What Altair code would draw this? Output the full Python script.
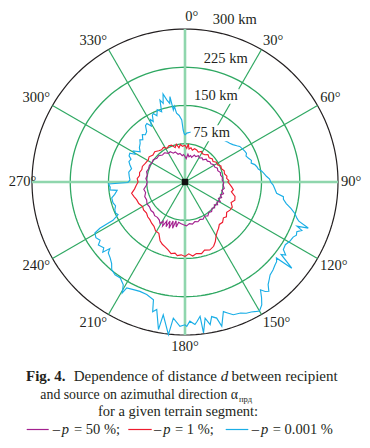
import altair as alt
import pandas as pd

# ---------------- data (azimuth in degrees, distance in km) ----------------
cyan_deg = [0, 2, 6, 10, 15, 20, 25, 30, 35, 40, 43, 46, 49, 52, 55, 57, 60, 63, 65, 67, 69.5, 72, 74, 76, 78,
            80, 82, 84, 86, 88, 90, 92, 94, 97, 98.5, 100, 102, 104, 106, 108, 109, 110.5, 111.5, 112.5, 114,
            115.5, 117, 119.5, 122, 124.5, 126, 127, 128.9, 129.7, 131, 132.6, 135, 137.5, 139, 141, 142.5,
            143.8, 145, 146.5, 148, 150, 151, 153, 155, 157, 160, 162, 163.5, 165.7, 166.9, 168.8, 170, 171.6,
            173, 173.6, 175, 176, 178, 179.3, 180, 182, 184.9, 186.2, 189.3, 190.2, 192.5, 194, 195, 198.8,
            202.4, 205.6, 208.8, 209.5, 211, 214, 217, 219.9, 222, 224.6, 227.2, 228.5, 229.5, 231, 234,
            235.5, 238, 240.5, 241.5, 242, 244, 246, 248.4, 251, 254, 257.7, 260, 263, 264, 266, 268.5, 269.5,
            272, 276, 280, 284, 287.2, 290, 293, 295, 297.5, 299, 301, 304, 307, 310.7, 313, 315, 318, 320,
            322.7, 325, 326.9, 329, 331, 332.3, 334, 335.2, 337, 339, 341.6, 343, 344.5, 346, 347.5, 349, 350,
            350.8, 352, 353, 355, 357, 358, 359, 360]
cyan_km = [92, 96, 98, 100, 102, 104, 105, 107, 109, 110, 112, 114, 116, 119, 124, 128, 130, 132, 133, 130, 133,
           137, 135, 141, 144, 146, 152, 156, 160, 166, 168, 173, 176, 181, 195, 196, 203, 214, 224, 231, 236,
           258, 236, 248, 240, 242, 238, 236, 232, 234, 244, 236, 269, 233, 238, 240, 244, 247, 252, 259, 270,
           266, 258, 272, 284, 292, 290, 286, 284, 279, 277, 270, 265, 292, 274, 269, 284, 270, 298, 265, 274,
           280, 273, 283, 280, 283, 268, 301, 264, 294, 256, 262, 239, 233, 232, 234, 237, 250, 235, 227, 228,
           224, 215, 209, 205, 197, 212, 205, 210, 202, 206, 203, 190, 160, 146, 149, 148, 144, 147, 147, 140,
           134, 148, 147, 150, 112, 108, 110, 112, 108, 113, 117, 115, 121, 122, 112, 118, 106, 112, 116, 121,
           117, 125, 121, 124, 135, 137, 128, 140, 134, 146, 148, 141, 152, 145, 168, 160, 178, 165, 157, 170,
           143, 150, 136, 131, 122, 102, 95, 92]

red_deg = [0, 3, 5, 7, 10, 13, 16, 20, 24, 28, 32, 36, 40, 45, 50, 54, 58, 62, 66, 70, 74, 78, 82, 85, 88, 90,
           93, 96, 99, 102, 106, 110, 114, 118, 122, 126, 130, 133, 137, 141, 144, 147, 150, 153, 156, 160, 164,
           167, 171, 174, 177, 180, 183, 186, 188, 191, 194, 197, 200, 203, 207, 211, 215, 219, 223, 227, 231,
           236, 240, 245, 250, 254, 258, 262, 266, 270, 274, 278, 282, 286, 290, 295, 301, 305, 310, 315, 320,
           324, 328, 332, 336, 340, 344, 347, 350, 353, 356, 360]
red_km = [72, 66, 75, 65, 68, 64, 68, 67, 64, 68, 65, 66, 70, 67, 70, 68, 73, 72, 77, 76, 80, 79, 83, 82, 86, 84,
          88, 92, 96, 93, 102, 104, 99, 105, 104, 101, 106, 103, 108, 107, 112, 116, 122, 131, 138, 142, 139,
          144, 142, 146, 141, 146, 143, 145, 141, 143, 137, 133, 130, 125, 113, 112, 106, 104, 101, 100, 97,
          98, 96, 100, 101, 104, 107, 100, 96, 92, 94, 90, 91, 88, 89, 86, 84, 86, 82, 84, 80, 78, 80, 75, 78,
          77, 70, 76, 68, 74, 70, 72]

purple_deg = [0, 3, 6, 9, 12, 15, 19, 23, 27, 31, 35, 39, 43, 47, 51, 55, 59, 63, 67, 71, 75, 79, 83, 87, 91,
              95, 99, 103, 107, 110, 113, 116, 119, 122, 125, 128, 131, 134, 138, 142, 146, 150, 154, 158, 162,
              166, 170, 174, 178, 182, 186, 189, 191, 193, 195, 197, 199, 201, 203, 205, 207, 209, 211, 214, 218,
              222, 226, 230, 235, 240, 245, 250, 255, 260, 265, 270, 275, 280, 285, 290, 295, 300, 305, 310, 315,
              320, 325, 330, 334, 338, 342, 346, 350, 354, 357, 360]
purple_km = [50, 46, 55, 50, 53, 50, 56, 54, 58, 55, 58, 56, 61, 60, 63, 62, 66, 65, 69, 68, 72, 71, 74, 73, 76,
             75, 78, 74, 79, 74, 78, 73, 79, 74, 78, 73, 77, 74, 78, 76, 80, 77, 81, 79, 82, 80, 84, 82, 86, 84,
             82, 80, 90, 78, 94, 80, 96, 82, 95, 84, 97, 88, 95, 90, 88, 89, 86, 87, 85, 86, 83, 84, 80, 82, 76,
             74, 77, 75, 78, 76, 77, 75, 76, 72, 73, 69, 70, 65, 66, 61, 62, 56, 57, 52, 54, 50]

series_names = ["p = 0.001 %", "p = 1 %", "p = 50 %"]
series_colors = ["#1aaee6", "#ee1c2e", "#a3218f"]

ring_km = [75, 150, 225, 300]
spoke_deg = [0, 30, 60, 90, 120, 150]
tick_deg = [0, 30, 60, 90, 120, 150, 180, 210, 240, 270, 300, 330]
dist_labels = ["75 km", "150 km", "225 km", "300 km"]

# ---------------- layout ----------------
KM = 300.0 / 153.0            # km per pixel
SERIF = "Liberation Serif, Times New Roman, Times, DejaVu Serif, serif"
INK = "#231f20"
GREEN = "#2fa862"
LIGHT_GREEN = "#8fd6ad"
W = H = 306
OX, OY = 32, 29               # page position of the plot origin

xs = alt.Scale(domain=[-300, 300], nice=False, zero=False)
ys = alt.Scale(domain=[-300, 300], nice=False, zero=False)
X = alt.X("x:Q", scale=xs, axis=None)
Y = alt.Y("y:Q", scale=ys, axis=None)
POLAR = dict(x="datum.km*sin(datum.deg*PI/180)", y="datum.km*cos(datum.deg*PI/180)")

frames = []
for name, d, k in [(series_names[0], cyan_deg, cyan_km),
                   (series_names[1], red_deg, red_km),
                   (series_names[2], purple_deg, purple_km)]:
    frames.append(pd.DataFrame({"deg": d, "km": k, "series": name}))
curves = pd.concat(frames, ignore_index=True)

ring_rows = [{"ring": r, "deg": a, "km": r} for r in ring_km for a in range(0, 362, 2)]
rings = pd.DataFrame(ring_rows)
spokes = pd.DataFrame([{"spoke": a, "deg": a, "km": s} for a in spoke_deg for s in (-300, 300)])
ticks = pd.DataFrame({"t": tick_deg, "label": [f"{t}°" for t in tick_deg]})
dist = pd.DataFrame({"text": dist_labels, "deg": [28.7, 19.8, 18.3, 17.1], "km": [109, 178.5, 254.5, 332],
                     "bw": [42, 46, 0, 0], "bh": [16, 15, 0, 0]})
one = pd.DataFrame({"deg": [0], "km": [0]})

layers = []

layers.append(alt.Chart(rings).transform_filter("datum.ring < 300").transform_calculate(**POLAR)
              .mark_line(color=GREEN, strokeWidth=1.3)
              .encode(x=X, y=Y, detail="ring:N", order="deg:Q"))
layers.append(alt.Chart(rings).transform_filter("datum.ring == 300").transform_calculate(**POLAR)
              .mark_line(color=INK, strokeWidth=1.2)
              .encode(x=X, y=Y, detail="ring:N", order="deg:Q"))
layers.append(alt.Chart(spokes).transform_filter("datum.spoke % 90 != 0").transform_calculate(**POLAR)
              .mark_line(color=GREEN, strokeWidth=1.2)
              .encode(x=X, y=Y, detail="spoke:N", order="km:Q"))
layers.append(alt.Chart(spokes).transform_filter("datum.spoke % 90 == 0").transform_calculate(**POLAR)
              .mark_line(color=LIGHT_GREEN, strokeWidth=2.6)
              .encode(x=X, y=Y, detail="spoke:N", order="km:Q"))

layers.append(alt.Chart(curves).transform_calculate(**POLAR)
              .mark_line(strokeWidth=1.15, strokeJoin="miter")
              .encode(x=X, y=Y,
                      color=alt.Color("series:N", scale=alt.Scale(domain=series_names, range=series_colors),
                                      legend=None, sort=series_names),
                      detail="series:N", order="deg:Q"))

layers.append(alt.Chart(one).transform_calculate(**POLAR)
              .mark_square(size=42, color="#111111", opacity=1).encode(x=X, y=Y))

layers.append(alt.Chart(dist).transform_filter("datum.bw > 0").transform_calculate(
    cx="datum.km*sin(datum.deg*PI/180)", cy="datum.km*cos(datum.deg*PI/180)").transform_calculate(
    x="datum.cx - datum.bw*%f/2" % KM, x2="datum.cx + datum.bw*%f/2" % KM,
    y="datum.cy - datum.bh*%f/2" % KM, y2="datum.cy + datum.bh*%f/2" % KM)
    .mark_rect(color="white").encode(x=X, x2="x2:Q", y=Y, y2="y2:Q"))

layers.append(alt.Chart(dist).transform_calculate(**POLAR)
              .mark_text(font=SERIF, fontSize=14.5, color=INK, align="center", baseline="middle")
              .encode(x=X, y=Y, text="text:N"))

LEFT_LIMIT = -300 - 24 * KM
layers.append(alt.Chart(ticks).transform_calculate(
    s="sin(datum.t*PI/180)", c="cos(datum.t*PI/180)").transform_calculate(
    sx="datum.t == 0 ? 1 : (datum.t == 180 ? 0 : (datum.s > 0 ? 1 : -1))",
    sy="abs(datum.c) < 0.01 ? 0 : (datum.c > 0 ? 1 : -1)",
    hy="abs(datum.s) < 0.01 ? 9 : 6",
    hx="length(datum.label) * 3.4 * %f" % KM).transform_calculate(
    x="max(306*datum.s + datum.sx*datum.hx, %f + datum.hx)" % (LEFT_LIMIT + KM),
    y="306*datum.c + datum.sy*datum.hy*%f" % KM)
    .mark_text(font=SERIF, fontSize=14.5, color=INK, align="center", baseline="middle")
    .encode(x=X, y=Y, text="label:N"))


def seg(text, px, py, size=14.5, weight="normal", style="normal", align="left"):
    return (alt.Chart(one).mark_text(text=text, font=SERIF, fontSize=size, fontWeight=weight,
                                     fontStyle=style, color=INK, align=align, baseline="alphabetic")
            .encode(x=alt.value(px - OX), y=alt.value(py - OY)))


def key(color, x1, x2, py):
    return (alt.Chart(one).mark_rule(color=color, strokeWidth=1.2)
            .encode(x=alt.value(x1 - OX), x2=alt.value(x2 - OX), y=alt.value(py - OY)))


layers += [
    seg("Fig. 4.", 26, 380.5, size=15, weight="bold"),
    seg("Dependence of distance", 217, 380.5, size=15, align="right"),
    seg("d", 220.7, 380.5, size=15, style="italic"),
    seg("between recipient", 231.5, 380.5, size=15),
    seg("and source on azimuthal direction α", 238, 398.5, size=13.8, align="right"),
    seg("прд", 239, 401.5, size=8.5),
    seg("for a given terrain segment:", 178, 416, align="center"),
    key(series_colors[2], 26.7, 48.7, 429.5),
    seg("–", 52.7, 434), seg("p", 61.7, 434, style="italic"), seg("= 50 %;", 74, 434),
    key(series_colors[1], 128.3, 151.7, 429.5),
    seg("–", 154, 434), seg("p", 163.3, 434, style="italic"), seg("= 1 %;", 175, 434),
    key(series_colors[0], 225.7, 248.3, 429.5),
    seg("–", 251.7, 434), seg("p", 261, 434, style="italic"), seg("= 0.001 %", 272.7, 434),
]

chart = (alt.layer(*layers)
         .properties(width=W, height=H,
                     padding={"left": 24, "top": 21, "right": 24, "bottom": 103},
                     autosize=alt.AutoSizeParams(type="none"),
                     background="white")
         .configure_view(strokeWidth=0))

chart.save("out.html", embed_options={"renderer": "svg", "actions": False})
